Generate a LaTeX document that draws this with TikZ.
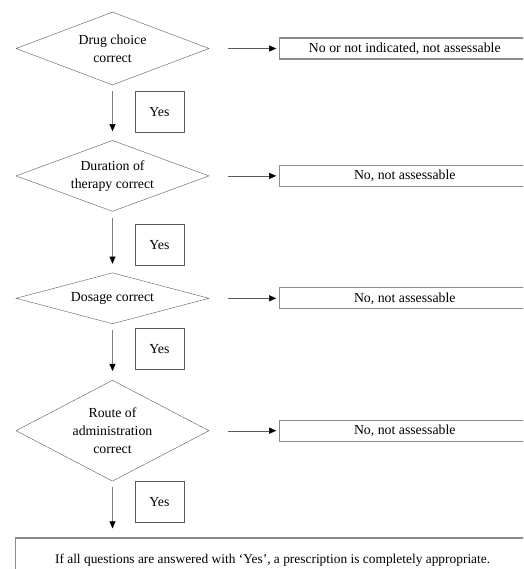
\documentclass[tikz,border=0pt]{standalone}
\usepackage{fontspec}
\setmainfont{Liberation Serif}
\usetikzlibrary{arrows.meta,positioning,shapes.geometric}
\definecolor{flowline}{RGB}{90,90,90}
\definecolor{boxline}{RGB}{140,140,140}

\begin{document}
\begin{tikzpicture}[
    x=1pt, y=1pt,
    question/.style={diamond, draw=flowline, align=center, inner sep=0pt, minimum width=193pt, font=\fontsize{13.8}{18}\selectfont},
    nobox/.style={draw=boxline, line width=1.2pt, minimum width=250pt, minimum height=21pt, inner sep=0pt, font=\fontsize{13.8}{18}\selectfont},
    yesbox/.style={draw=flowline, line width=0.9pt, minimum width=49pt, minimum height=41pt, font=\fontsize{13.8}{18}\selectfont},
    endbox/.style={draw=boxline, line width=1.2pt, minimum width=514pt, minimum height=44pt, font=\fontsize{13.4}{18}\selectfont},
    down/.style={draw=gray, -{Triangle[length=7pt,width=6pt,color=black]}, shorten <=6pt, shorten >=9pt},
    side/.style={draw=flowline, -{Triangle[length=7pt,width=6pt,color=black]}, shorten <=19pt, shorten >=3pt},
    >=Stealth
]
\useasboundingbox (0,0) rectangle (523,-569);
\clip (0,0) rectangle (523,-569);
\node[question, aspect=2.64, minimum height=73pt] (q1) at (112.5,-48.5) {Drug choice\\correct};
\node[question, aspect=2.72, minimum height=71pt, below=55pt of q1] (q2) {Duration of\\therapy correct};
\node[question, aspect=3.78, minimum height=51pt, below=61pt of q2] (q3) {Dosage correct};
\node[question, aspect=1.91, minimum height=101pt, below=56pt of q3] (q4) {Route of\\administration\\correct};
\node[nobox, right=70pt of q1] (n1) {No or not indicated, not assessable};
\node[nobox, right=70pt of q2] (n2) {No, not assessable};
\node[nobox, right=70pt of q3] (n3) {No, not assessable};
\node[nobox, right=70pt of q4] (n4) {No, not assessable};
\node[yesbox, below right=6pt and 22pt of q1.south] (y1) {Yes};
\node[yesbox, below right=12pt and 22pt of q2.south] (y2) {Yes};
\node[yesbox, below right=4pt and 22pt of q3.south] (y3) {Yes};
\node[yesbox, below right=0pt and 22pt of q4.south] (y4) {Yes};
\node[endbox, below right=56pt and -97.5pt of q4.south] (all) {If all questions are answered with ‘Yes’, a prescription is completely appropriate.};
\draw[down] (q1) -- (q2);
\draw[down] (q2) -- (q3);
\draw[down] (q3) -- (q4);
\draw[down] (q4.south) -- (q4.south |- all.north);
\draw[side] (q1) -- (n1);
\draw[side] (q2) -- (n2);
\draw[side] (q3) -- (n3);
\draw[side] (q4) -- (n4);
\end{tikzpicture}
\end{document}
